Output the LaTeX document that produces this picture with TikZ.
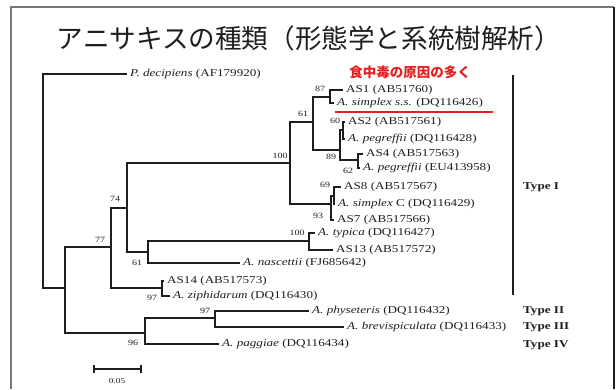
\documentclass[tikz,border=0pt]{standalone}
\usepackage{fontspec}
\setmainfont{Liberation Serif}[FakeStretch=1.25]
\newfontfamily\cjk{Noto Sans CJK JP}
\definecolor{frameg}{RGB}{120,120,120}
\definecolor{ink}{RGB}{30,30,30}
\definecolor{redtxt}{RGB}{230,30,30}
\begin{document}
\begin{tikzpicture}[x=1pt,y=-1pt,
  br/.style={line width=1.7pt, draw=ink},
  leaf/.style={anchor=west, inner xsep=3pt, inner ysep=0pt, text=ink, font=\fontsize{10.5}{12}\selectfont},
  bs/.style={inner sep=0pt, text=ink, font=\fontsize{8}{9}\selectfont},
  typ/.style={anchor=west, inner sep=0pt, text=ink, font=\fontsize{10.5}{12}\selectfont\bfseries}]
\useasboundingbox (0,0) rectangle (616,389);
% frame
\coordinate (f1) at (11,389); \coordinate (f2) at (11,7); \coordinate (f3) at (614,7); \coordinate (f4) at (614,389);
\draw[frameg, line width=2pt] (f1) -- (f2) -- (f3);
\draw[ink, line width=2pt] (f3) -- (f4);
% title
\node[font=\cjk\fontsize{26.6}{30}\selectfont, text=ink] (title) at (309,38) {アニサキスの種類（形態学と系統樹解析）};
\node[font=\cjk\bfseries\fontsize{13.5}{15}\selectfont, text=redtxt] (red) at (410,72) {食中毒の原因の多く};
% leaves
\node[leaf] (lPd) at (127,74) {\textit{P. decipiens} (AF179920)};
\node[leaf] (lAS1) at (343,90) {AS1 (AB51760)};
\node[leaf] (lSs) at (334,103) {\textit{A. simplex s.s.} (DQ116426)};
\node[leaf] (lAS2) at (345,122) {AS2 (AB517561)};
\node[leaf] (lPg1) at (345,139) {\textit{A. pegreffii} (DQ116428)};
\node[leaf] (lAS4) at (363,154) {AS4 (AB517563)};
\node[leaf] (lPg2) at (360,168) {\textit{A. pegreffii} (EU413958)};
\node[leaf] (lAS8) at (341,187) {AS8 (AB517567)};
\node[leaf] (lSC) at (335,204) {\textit{A. simplex} C (DQ116429)};
\node[leaf] (lAS7) at (334,220) {AS7 (AB517566)};
\node[leaf] (lTy) at (315,233) {\textit{A. typica} (DQ116427)};
\node[leaf] (lAS13) at (333,250) {AS13 (AB517572)};
\node[leaf] (lNa) at (240,263) {\textit{A. nascettii} (FJ685642)};
\node[leaf] (lAS14) at (164,281) {AS14 (AB517573)};
\node[leaf] (lZi) at (170,296) {\textit{A. ziphidarum} (DQ116430)};
\node[leaf] (lPh) at (309,311) {\textit{A. physeteris} (DQ116432)};
\node[leaf] (lBr) at (344,327) {\textit{A. brevispiculata} (DQ116433)};
\node[leaf] (lPa) at (219,344) {\textit{A. paggiae} (DQ116434)};
% internal nodes
\coordinate (r) at (43,180);
\coordinate (n1) at (65,288);
\coordinate (n77) at (111,247);
\coordinate (n97a) at (162,288);
\coordinate (n74) at (127,208);
\coordinate (n61b) at (148,252);
\coordinate (n100b) at (309,241);
\coordinate (n100) at (290,163);
\coordinate (n61) at (313,122);
\coordinate (n87) at (330,97);
\coordinate (n89) at (340,150);
\coordinate (n60) at (343,130);
\coordinate (n62) at (358,160);
\coordinate (n93) at (331,204);
\coordinate (n69) at (334,196);
\coordinate (n96) at (145,333);
\coordinate (n97b) at (215,318);
% branches
\draw[br] (r) |- (lPd.west);
\draw[br] (r) |- (n1);
\draw[br] (n1) |- (n77);
\draw[br] (n1) |- (n96);
\draw[br] (n77) |- (n74);
\draw[br] (n77) |- (n97a);
\draw[br] (n97a) |- (lAS14.west);
\draw[br] (n97a) |- (lZi.west);
\draw[br] (n74) |- (n100);
\draw[br] (n74) |- (n61b);
\draw[br] (n61b) |- (n100b);
\draw[br] (n61b) |- (lNa.west);
\draw[br] (n100b) |- (lTy.west);
\draw[br] (n100b) |- (lAS13.west);
\draw[br] (n100) |- (n61);
\draw[br] (n100) |- (n93);
\draw[br] (n61) |- (n87);
\draw[br] (n61) |- (n89);
\draw[br] (n87) |- (lAS1.west);
\draw[br] (n87) |- (lSs.west);
\draw[br] (n89) |- (n60);
\draw[br] (n89) |- (n62);
\draw[br] (n60) |- (lAS2.west);
\draw[br] (n60) |- (lPg1.west);
\draw[br] (n62) |- (lAS4.west);
\draw[br] (n62) |- (lPg2.west);
\draw[br] (n93) |- (n69);
\draw[br] (n93) |- (lAS7.west);
\draw[br] (n69) |- (lAS8.west);
\draw[br] (n69) |- (lSC.west);
\draw[br] (n96) |- (n97b);
\draw[br] (n96) |- (lPa.west);
\draw[br] (n97b) |- (lPh.west);
\draw[br] (n97b) |- (lBr.west);
% bootstrap values
\node[bs] (b87) at (320,89) {87};
\node[bs] (b61) at (303,114) {61};
\node[bs] (b100) at (280,156) {100};
\node[bs] (b60) at (335,121) {60};
\node[bs] (b89) at (331,157) {89};
\node[bs] (b62) at (348,171) {62};
\node[bs] (b69) at (325,185) {69};
\node[bs] (b93) at (318,216) {93};
\node[bs] (b100b) at (297,233) {100};
\node[bs] (b74) at (115,199) {74};
\node[bs] (b77) at (100,240) {77};
\node[bs] (b61b) at (137,263) {61};
\node[bs] (b97a) at (152,298) {97};
\node[bs] (b97b) at (205,311) {97};
\node[bs] (b96) at (133,343) {96};
% red underline
\coordinate (u1) at (335,112); \coordinate (u2) at (493,112);
\draw[redtxt, line width=2pt] (u1) -- (u2);
% type bar and labels
\coordinate (barT) at (513,75); \coordinate (barB) at (513,295);
\draw[ink, line width=2.5pt] (barT) -- (barB);
\node[typ] (tI) at (523,187) {Type I};
\node[typ] (tII) at (523,311) {Type II};
\node[typ] (tIII) at (523,327) {Type III};
\node[typ] (tIV) at (523,345) {Type IV};
% scale bar
\coordinate (s1) at (94,369); \coordinate (s2) at (141,369);
\draw[br] (s1) -- (s2);
\draw[br] ([yshift=-4pt]s1) -- ([yshift=4pt]s1);
\draw[br] ([yshift=-4pt]s2) -- ([yshift=4pt]s2);
\node[inner sep=0pt, text=ink, font=\fontsize{7.5}{9}\selectfont] (sl) at (117,381) {0.05};
\end{tikzpicture}
\end{document}
